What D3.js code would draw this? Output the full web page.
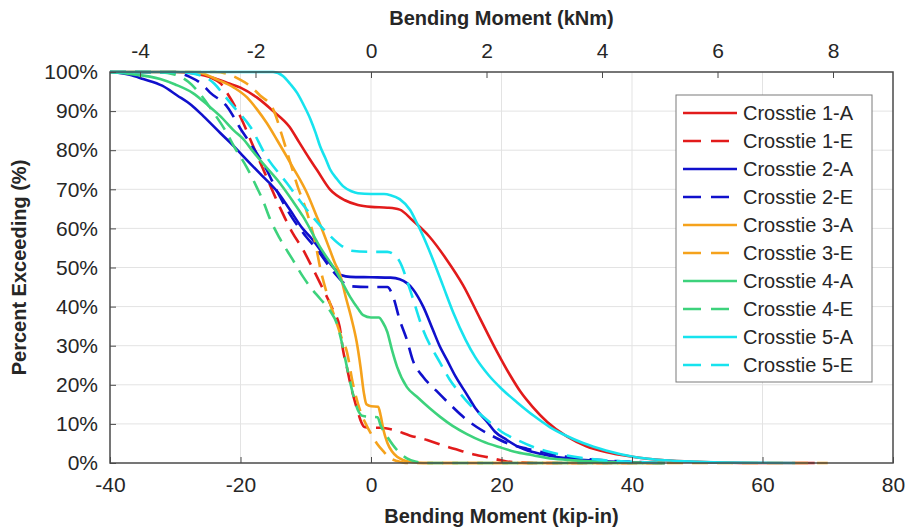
<!DOCTYPE html>
<html>
<head>
<meta charset="utf-8">
<script src="https://cdn.jsdelivr.net/npm/d3@7"></script>
<style>
  html, body { margin: 0; padding: 0; background: #fff; }
  svg text { font-family: "Liberation Sans", Arial, sans-serif; fill: #262626; }
</style>
</head>
<body>
<svg id="chart" width="914" height="529"></svg>
<script>
// Exceedance curves: [bending moment (kip-in), percent exceeding]
const crosstie1A = [[-40,100],[-30,100],[-27,99.6],[-24,98.4],[-22,97.2],[-20,96],[-17.5,93.5],[-15,90],[-12.5,86],[-11,82],[-9.5,78],[-8.3,75],[-6.3,70],[-4,67.2],[-2,66],[0,65.5],[2.5,65.3],[4.4,64.8],[6.4,62],[9,57.8],[11.6,52],[14.1,45.5],[16.7,37],[19.3,28.5],[21.3,22.5],[23,18],[24.8,14.3],[27,10.5],[30,6.8],[33,4.3],[36,2.8],[40,1.6],[45,0.7],[50,0.3],[55,0.1],[60,0],[68,0]];
const crosstie1E = [[-40,100],[-30,100],[-26,99.5],[-24.5,98.5],[-23,97],[-22,94.5],[-20,88.5],[-18,80.8],[-16,73.1],[-14,65.5],[-12,58.8],[-10.4,54.5],[-9,50],[-7.8,46],[-5.8,39],[-4.8,34.8],[-4.3,29],[-3.7,24.5],[-3.2,20.5],[-2.1,13.6],[-1.5,10.5],[-1,9.2],[0,9],[1.5,9],[3.4,8.5],[6,7],[8.6,5.9],[11,4.5],[13.6,3.2],[16,2.1],[17.8,1.5],[20.8,0.4],[23,0.1],[25,0],[45,0]];
const crosstie2A = [[-40,100],[-37,99.3],[-34.9,98.2],[-32,96.5],[-29.7,94],[-27.5,91.5],[-25.7,88.7],[-23.1,84.4],[-21,81],[-19.6,78.5],[-17,74],[-15.5,71.5],[-14.4,69.5],[-12.4,64.7],[-10.5,60],[-9.3,57.8],[-8,55],[-6.7,52],[-5.5,49.5],[-4.5,48],[-3.2,47.6],[0,47.5],[3,47.4],[4.4,47],[5.5,46],[6.4,44.5],[7.2,42.5],[8,40],[9.5,34],[10.5,30],[11.6,26.5],[13,22],[14.7,17.5],[16,14],[17.8,10.5],[19,8],[20.8,5.9],[22.5,4.2],[24.8,2.8],[27,2],[30,1.2],[35,0.5],[40,0.2],[45,0]];
const crosstie2E = [[-40,100],[-30,99.8],[-27.7,98.7],[-26,97],[-24.7,94.8],[-22,91],[-20,85.5],[-18,80.5],[-16,75],[-14.4,69.5],[-12,62.5],[-10,58],[-8,54],[-6.5,50.5],[-5,47.5],[-4,45.8],[-3,45.2],[0,45],[2.5,45],[3.4,42.5],[4.4,36.6],[5.5,31.5],[6.4,26.3],[8,22],[10,18.5],[12.1,15],[14,12],[16.2,9.2],[18.5,7],[20.8,5.1],[24,3.6],[27.4,2.4],[30,1.6],[34.6,0.8],[40,0.3],[45,0]];
const crosstie3A = [[-40,100],[-28,100],[-26,99.7],[-23.5,98],[-21,96],[-19,93.5],[-17.5,90.5],[-16,87],[-14.4,82.6],[-12,75.7],[-9.8,69],[-8.3,63],[-7.8,61],[-6.3,54.5],[-5.5,51],[-4.8,48.5],[-3.8,42],[-3,37],[-2.2,31],[-1.6,24.5],[-1.1,18],[-0.7,15],[0,14.5],[1.1,14.4],[1.5,12],[1.9,8.5],[2.5,5.2],[3.2,3],[4,1.6],[5,0.7],[6.4,0.2],[8,0],[45,0]];
const crosstie3E = [[-40,100],[-24,100],[-22,99.5],[-20,98],[-19,97],[-17,94],[-15,90.5],[-13.5,83],[-12.4,77],[-11.3,71],[-9.8,64],[-8.5,56],[-7.8,50],[-6.7,43],[-5.5,37],[-4.5,32],[-3.7,28.5],[-2.8,20.5],[-1.7,13.6],[-0.8,10],[0,7.5],[0.9,5],[2,2.8],[2.9,1.3],[4,0.5],[5,0.1],[6,0],[70,0]];
const crosstie4A = [[-40,100],[-37,99.5],[-32.3,98.2],[-30,96.8],[-27.3,94.6],[-25,91.5],[-23.1,88.7],[-21,85],[-19.6,82.9],[-18,79.5],[-16.6,76.7],[-14.4,72.5],[-12,67],[-10.4,63],[-7.8,55.2],[-5.2,48.6],[-3.2,42.5],[-2,39.5],[-1.2,37.8],[0,37.2],[1.2,37.2],[1.8,36],[2.5,33.5],[3.2,29],[4,24.6],[5.5,19.4],[7,17],[9,14],[10.6,11.8],[12.5,9.5],[14.7,7.4],[17,5.6],[19.8,4],[22,2.9],[24.8,2],[27,1.3],[30,0.8],[35,0.3],[40,0.1],[45,0]];
const crosstie4E = [[-40,100],[-33,100],[-30,99.3],[-28,97.5],[-26,94],[-24.5,90.5],[-22.1,84.4],[-21,81],[-19,75.5],[-17.5,70.5],[-16.6,67.3],[-15.5,62.5],[-14,57.5],[-12,52],[-10.4,47.6],[-9.3,45],[-7.8,42],[-6.3,39],[-5.2,35.5],[-4.5,31],[-3.7,24.6],[-2.8,17.9],[-2,13.5],[-1.2,12],[0,11.8],[1,11.7],[1.5,9.5],[2.5,6.7],[4,3.3],[5.5,1.2],[7,0.3],[8,0],[45,0]];
const crosstie5A = [[-40,100],[-15,100],[-13.5,99],[-12.4,97],[-11.3,94.6],[-10.3,91.5],[-9.3,88],[-8.5,84.5],[-7.8,81],[-7,78],[-6.3,75.2],[-5.3,72.8],[-4.3,70.8],[-3,69.5],[-2,69],[0,68.8],[2,68.8],[3,68.5],[4.4,67.5],[6,64.7],[7,61.5],[8,58],[9.5,52],[11,45.5],[12.6,38.5],[14.5,31.5],[16,27],[18,22.5],[20,19],[22.4,15.5],[25,12],[27.4,9.2],[30,6.9],[32.5,5.1],[36,3.2],[40.2,1.6],[45,0.7],[50,0.3],[55,0.1],[65,0]];
const crosstie5E = [[-40,100],[-30,100],[-27,99.5],[-24,97],[-22.5,94],[-21,91],[-18.5,86],[-16,78.3],[-12.9,71.6],[-9.8,64.7],[-6.7,58.8],[-4.5,55.5],[-3,54.3],[0,54],[2.5,54],[3.5,53.3],[4.4,51.5],[6,44.2],[8,34],[10.6,25.6],[12,21.5],[13.6,17.9],[15.5,14.3],[17.8,11],[20,8],[22.4,5.9],[25,4],[27.4,2.8],[30,1.9],[35,0.8],[40,0.3],[45,0]];

const seriesNames = ["Crosstie 1-A","Crosstie 1-E","Crosstie 2-A","Crosstie 2-E","Crosstie 3-A","Crosstie 3-E","Crosstie 4-A","Crosstie 4-E","Crosstie 5-A","Crosstie 5-E"];
const seriesData  = [crosstie1A, crosstie1E, crosstie2A, crosstie2E, crosstie3A, crosstie3E, crosstie4A, crosstie4E, crosstie5A, crosstie5E];
const seriesColors = ["#e21b1b","#e21b1b","#1010cc","#1010cc","#f5a21c","#f5a21c","#3dd27c","#3dd27c","#17e3ee","#17e3ee"];
const seriesDashed = [false,true,false,true,false,true,false,true,false,true];

const xTicks = [-40,-20,0,20,40,60,80];          // kip-in
const kNmTicks = [-4,-2,0,2,4,6,8];              // kNm
const yTicks = [0,10,20,30,40,50,60,70,80,90,100];
const KIPIN_TO_KNM = 0.112985;

const svg = d3.select("#chart");
const plot = { left: 110, right: 893, top: 72, bottom: 463 };

const x = d3.scaleLinear().domain([-40, 80]).range([plot.left, plot.right]);
const xTop = d3.scaleLinear().domain([-40 * KIPIN_TO_KNM, 80 * KIPIN_TO_KNM]).range([plot.left, plot.right]);
const y = d3.scaleLinear().domain([0, 100]).range([plot.bottom, plot.top]);

// grid
const grid = svg.append("g").attr("stroke", "#e3e3e3").attr("stroke-width", 1);
grid.selectAll("line.v").data(xTicks.slice(1, -1)).join("line")
  .attr("x1", d => x(d)).attr("x2", d => x(d)).attr("y1", plot.top).attr("y2", plot.bottom);
grid.selectAll("line.h").data(yTicks.slice(1, -1)).join("line")
  .attr("x1", plot.left).attr("x2", plot.right).attr("y1", d => y(d)).attr("y2", d => y(d));

// curves
const line = d3.line().x(d => x(d[0])).y(d => y(d[1])).curve(d3.curveMonotoneX);
const curves = svg.append("g");
seriesData.forEach((data, i) => {
  curves.append("path")
    .datum(data)
    .attr("d", line)
    .attr("fill", "none")
    .attr("stroke", seriesColors[i])
    .attr("stroke-width", 2.6)
    .attr("stroke-linejoin", "round")
    .attr("stroke-dasharray", seriesDashed[i] ? "16,9" : null);
});

// axes (plain hyphen for negative numbers)
const axisColor = "#4a4a4a";
const fontTick = 21;
const plainNum = d => String(d);
function styleAxis(g) {
  g.select(".domain").remove();
  g.selectAll(".tick line").attr("stroke", axisColor).attr("stroke-width", 1);
  g.selectAll(".tick text").attr("font-size", fontTick).attr("fill", "#262626")
    .attr("font-family", "'Liberation Sans', Arial, sans-serif");
}
svg.append("g").attr("transform", `translate(0,${plot.bottom})`)
  .call(d3.axisBottom(x).tickValues(xTicks).tickSize(-6).tickPadding(14).tickFormat(plainNum))
  .call(styleAxis);
svg.append("g").attr("transform", `translate(0,${plot.top})`)
  .call(d3.axisTop(xTop).tickValues(kNmTicks).tickSize(-6).tickPadding(14).tickFormat(plainNum))
  .call(styleAxis);
svg.append("g").attr("transform", `translate(${plot.left},0)`)
  .call(d3.axisLeft(y).tickValues(yTicks).tickSize(-6).tickPadding(12).tickFormat(d => d + "%"))
  .call(styleAxis);

// frame
svg.append("rect")
  .attr("x", plot.left).attr("y", plot.top)
  .attr("width", plot.right - plot.left).attr("height", plot.bottom - plot.top)
  .attr("fill", "none").attr("stroke", axisColor).attr("stroke-width", 1.5);

// axis titles
svg.append("text").attr("x", (plot.left + plot.right) / 2).attr("y", 523)
  .attr("text-anchor", "middle").attr("font-size", 20).attr("font-weight", "bold")
  .text("Bending Moment (kip-in)");
svg.append("text").attr("x", (plot.left + plot.right) / 2).attr("y", 25)
  .attr("text-anchor", "middle").attr("font-size", 20).attr("font-weight", "bold")
  .text("Bending Moment (kNm)");
svg.append("text")
  .attr("transform", `translate(26,${(plot.top + plot.bottom) / 2}) rotate(-90)`)
  .attr("text-anchor", "middle").attr("font-size", 20).attr("font-weight", "bold")
  .text("Percent Exceeding (%)");

// legend
const legend = svg.append("g").attr("transform", "translate(676,95)");
legend.append("rect").attr("width", 196).attr("height", 287)
  .attr("fill", "#fff").attr("stroke", "#7a7a7a").attr("stroke-width", 1);
const rowH = 28;
seriesNames.forEach((name, i) => {
  const ry = 18 + i * rowH;
  legend.append("line")
    .attr("x1", 7).attr("x2", 61).attr("y1", ry).attr("y2", ry)
    .attr("stroke", seriesColors[i]).attr("stroke-width", 2.6)
    .attr("stroke-dasharray", seriesDashed[i] ? "18,10" : null);
  legend.append("text").attr("x", 67).attr("y", ry).attr("dy", "0.36em")
    .attr("font-size", 20).text(name);
});
</script>
</body>
</html>
